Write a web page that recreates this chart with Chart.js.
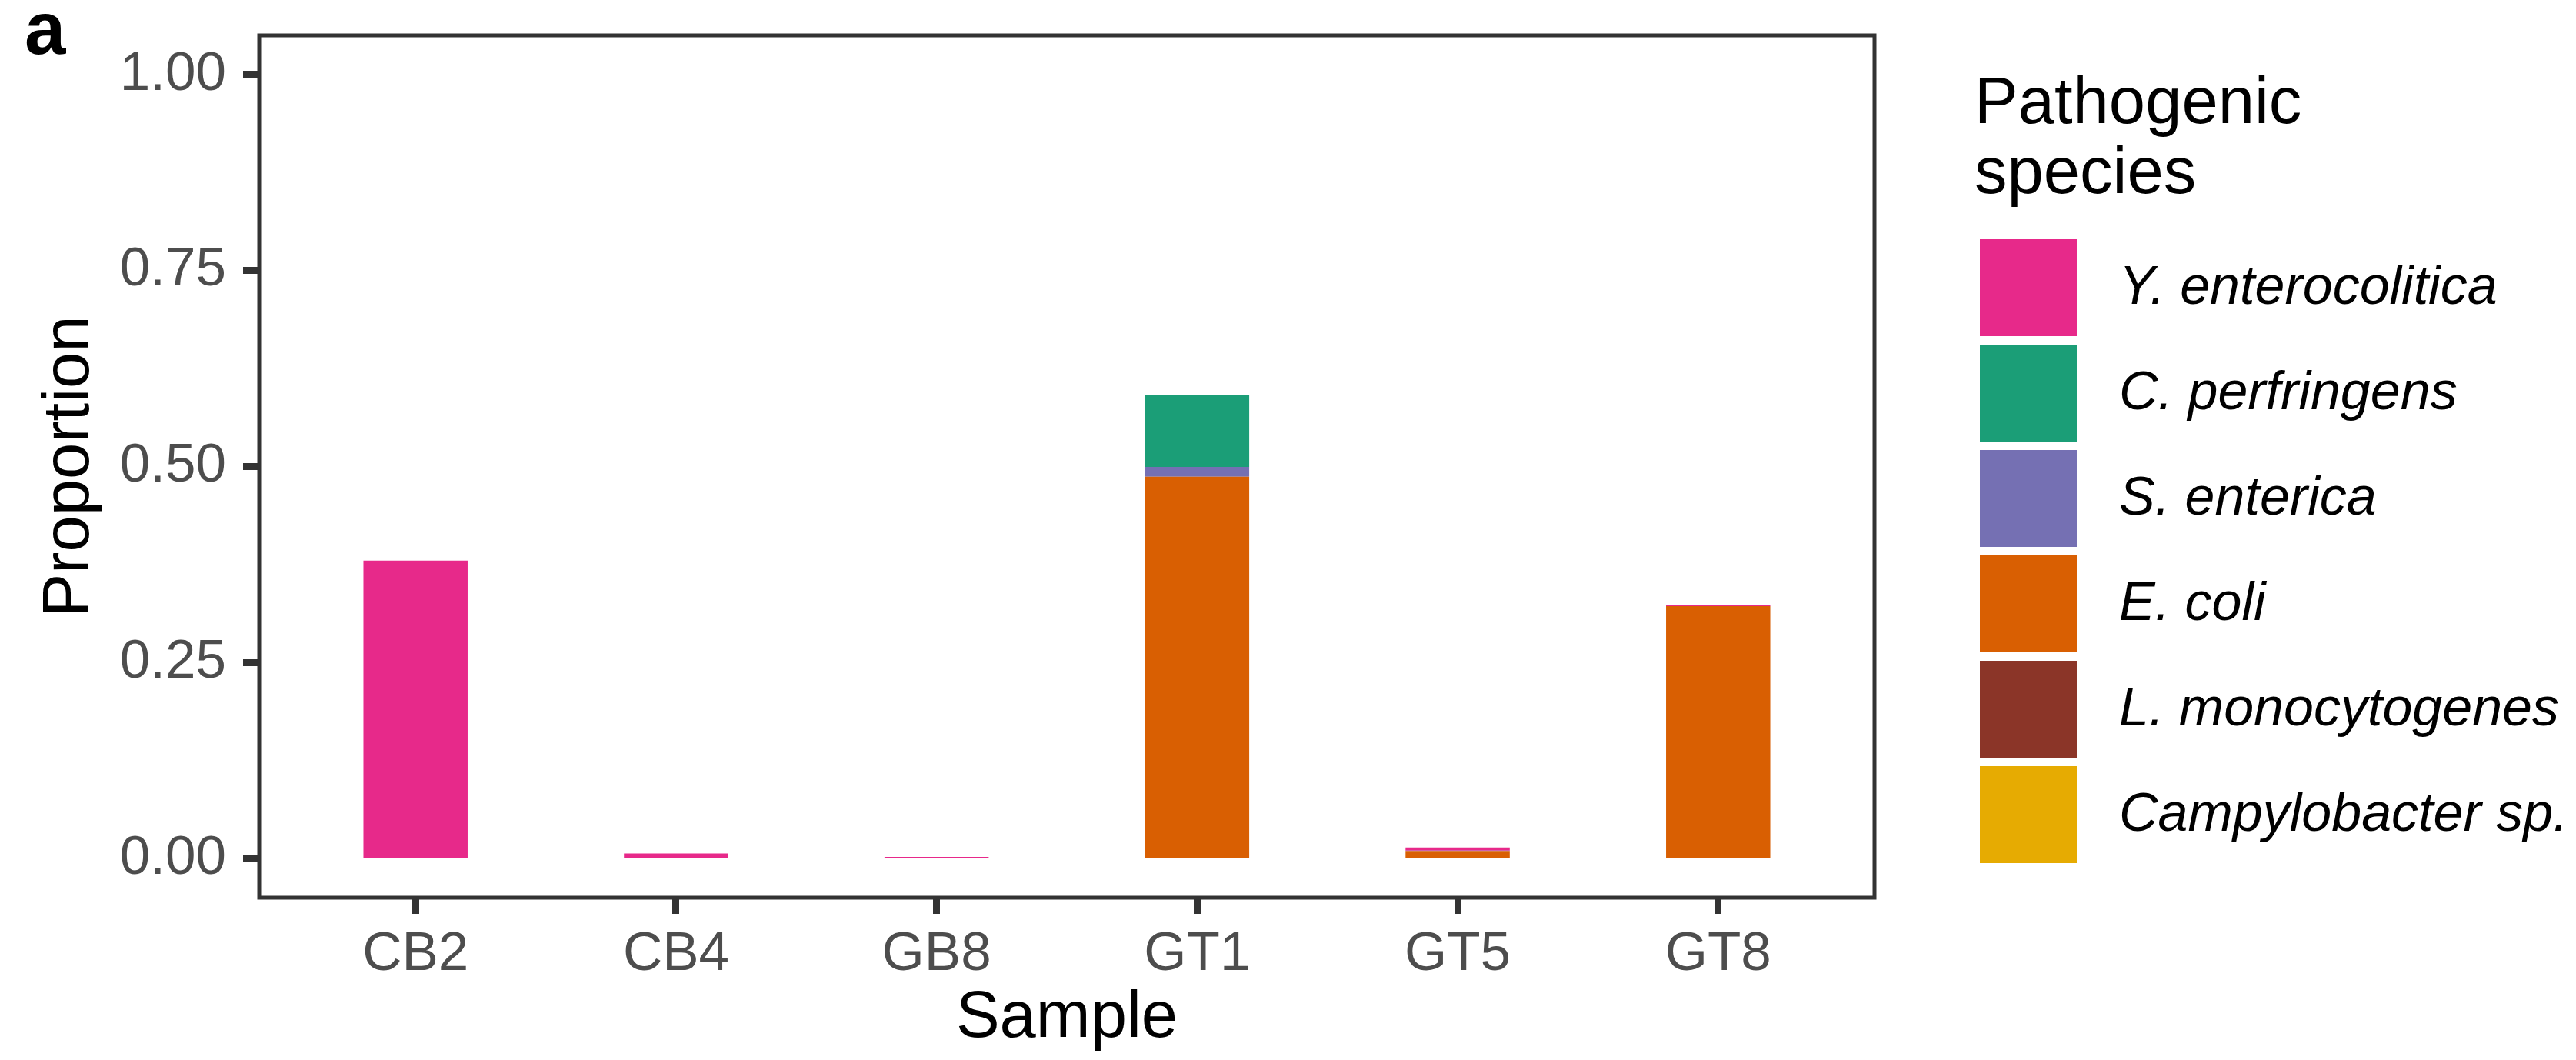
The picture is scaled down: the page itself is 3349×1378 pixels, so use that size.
<!DOCTYPE html>
<html>
<head>
<meta charset="utf-8">
<title>Pathogenic species</title>
<script src="https://cdn.jsdelivr.net/npm/chart.js@4.4.1/dist/chart.umd.min.js"></script>
<style>
  body { margin: 0; background: #fff; }
  canvas { display: block; }
</style>
</head>
<body>
<canvas id="speciesChart" width="3349" height="1378"></canvas>
<script>
// samples on the x axis
var samples = ['CB2', 'CB4', 'GB8', 'GT1', 'GT5', 'GT8'];

// species, in legend order (top of legend first)
var species = ['Y. enterocolitica', 'C. perfringens', 'S. enterica', 'E. coli', 'L. monocytogenes', 'Campylobacter sp.'];
var speciesColors = ['#E7298A', '#1B9E77', '#7570B3', '#D95F02', '#8B3528', '#E6AB02'];

// proportions per sample
var yEnterocolitica = [0.379, 0.0055, 0.002, 0, 0.004, 0.001];
var cPerfringens    = [0.001, 0, 0, 0.092, 0, 0];
var sEnterica       = [0, 0, 0, 0.0125, 0.0005, 0];
var eColi           = [0, 0.001, 0, 0.487, 0.0095, 0.322];
var lMonocytogenes  = [0, 0, 0, 0, 0, 0];
var campylobacter   = [0, 0, 0, 0, 0, 0];

var speciesValues = [yEnterocolitica, cPerfringens, sEnterica, eColi, lMonocytogenes, campylobacter];

var yTickValues = [0, 0.25, 0.5, 0.75, 1];
var yTickLabels = ['0.00', '0.25', '0.50', '0.75', '1.00'];

var fontFamily = '"Liberation Sans", Arial, Helvetica, sans-serif';
Chart.defaults.font.family = fontFamily;

// stack bottom -> top is the reverse of the legend order
var datasets = [];
for (var s = species.length - 1; s >= 0; s--) {
    datasets.push({
        label: species[s],
        data: samples.map(function(name, i) { return { x: i + 1, y: speciesValues[s][i] }; }),
        backgroundColor: speciesColors[s],
        borderWidth: 0,
        barPercentage: 0.4,
        categoryPercentage: 1.0
    });
}

var frameAndLegend = {
    id: 'frameAndLegend',
    afterDraw: function(chart) {
        var ctx = chart.ctx;
        var area = chart.chartArea;
        ctx.save();

        // panel border
        ctx.strokeStyle = '#333333';
        ctx.lineWidth = 5;
        ctx.strokeRect(area.left, area.top, area.right - area.left, area.bottom - area.top);

        // panel tag
        ctx.fillStyle = '#000';
        ctx.font = 'bold 96px ' + fontFamily;
        ctx.textAlign = 'left';
        ctx.textBaseline = 'alphabetic';
        ctx.fillText('a', 32, 70);

        // legend title
        ctx.font = '85px ' + fontFamily;
        ctx.fillText('Pathogenic', 2567, 160);
        ctx.fillText('species', 2567, 251);

        // legend keys, top to bottom
        var boxX = 2574, boxTop = 311, boxSize = 126, step = 137;
        ctx.font = 'italic 70px ' + fontFamily;
        ctx.textBaseline = 'middle';
        for (var i = 0; i < species.length; i++) {
            var y = boxTop + i * step;
            ctx.fillStyle = speciesColors[i];
            ctx.fillRect(boxX, y, boxSize, boxSize);
            ctx.fillStyle = '#000';
            ctx.fillText(species[i], 2755, y + boxSize / 2 + 2);
        }
        ctx.restore();
    }
};

new Chart(document.getElementById('speciesChart').getContext('2d'), {
    type: 'bar',
    data: { datasets: datasets },
    options: {
        responsive: false,
        devicePixelRatio: 1,
        animation: false,
        layout: { padding: { left: 0, top: 46, right: 912, bottom: 0 } },
        plugins: {
            legend: { display: false },
            tooltip: { enabled: false }
        },
        scales: {
            x: {
                type: 'linear',
                stacked: true,
                offset: false,
                min: 0.4,
                max: 6.6,
                afterBuildTicks: function(axis) {
                    axis.ticks = samples.map(function(name, i) { return { value: i + 1 }; });
                },
                afterFit: function(axis) {
                    axis.height = 211;
                    axis.paddingLeft = 0;
                    axis.paddingRight = 0;
                },
                grid: {
                    offset: false,
                    drawOnChartArea: false,
                    drawTicks: true,
                    tickLength: 21,
                    tickWidth: 9,
                    tickColor: '#333333'
                },
                border: { display: false },
                ticks: {
                    padding: 11,
                    maxRotation: 0,
                    autoSkip: false,
                    color: '#4D4D4D',
                    font: { size: 71 },
                    callback: function(value) { return samples[Math.round(value) - 1]; }
                },
                title: {
                    display: true,
                    text: 'Sample',
                    color: '#000',
                    font: { size: 85 },
                    padding: { top: 0, bottom: 2 }
                }
            },
            y: {
                stacked: true,
                min: -0.05,
                max: 1.05,
                afterBuildTicks: function(axis) {
                    axis.ticks = yTickValues.map(function(v) { return { value: v }; });
                },
                afterFit: function(axis) {
                    axis.width = 337;
                    axis.paddingTop = 0;
                    axis.paddingBottom = 0;
                },
                grid: {
                    drawOnChartArea: false,
                    drawTicks: true,
                    tickLength: 21,
                    tickWidth: 9,
                    tickColor: '#333333'
                },
                border: { display: false },
                ticks: {
                    padding: 22,
                    color: '#4D4D4D',
                    font: { size: 71 },
                    callback: function(value) {
                        var k = yTickValues.indexOf(value);
                        return k >= 0 ? yTickLabels[k] : '';
                    }
                },
                title: {
                    display: true,
                    text: 'Proportion',
                    color: '#000',
                    font: { size: 85 },
                    padding: { top: 41, bottom: 0 }
                }
            }
        }
    },
    plugins: [frameAndLegend]
});
</script>
</body>
</html>
